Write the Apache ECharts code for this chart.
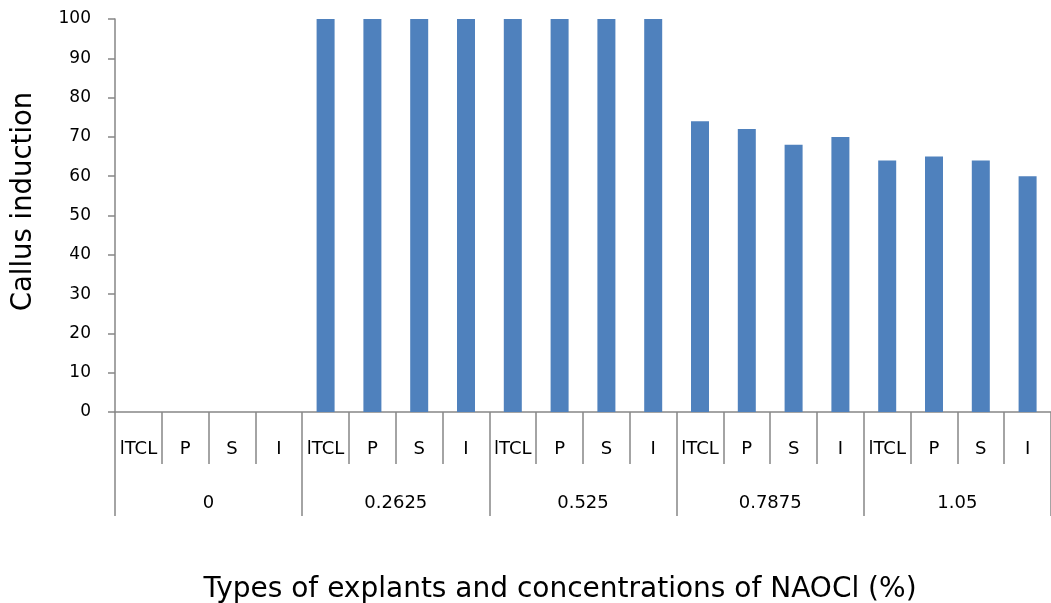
<!DOCTYPE html>
<html>
<head>
<meta charset="utf-8">
<script src="https://cdn.jsdelivr.net/npm/echarts@6/dist/echarts.min.js"></script>
<style>
  html, body { margin: 0; padding: 0; background: #fff; }
  #chart { width: 1051px; height: 603px; }
</style>
</head>
<body>
<div id="chart"></div>
<script>
// Explant types repeated inside each NaOCl concentration group
const explants = ['lTCL', 'P', 'S', 'I'];
const concentrations = ['0', '0.2625', '0.525', '0.7875', '1.05'];
// Callus induction (%) per group, in explant order
const callus0 = [0, 0, 0, 0];
const callus02625 = [100, 100, 100, 100];
const callus0525 = [100, 100, 100, 100];
const callus07875 = [74, 72, 68, 70];
const callus105 = [64, 65, 64, 60];
const yTicks = { min: 0, max: 100, interval: 10 };

const groups = [callus0, callus02625, callus0525, callus07875, callus105];
const innerCats = [];
const values = [];
concentrations.forEach((c, gi) => {
  explants.forEach((e, ei) => {
    innerCats.push(e);
    values.push(groups[gi][ei]);
  });
});

const axisGray = '#868686';
const font = 'DejaVu Sans';

const chart = echarts.init(document.getElementById('chart'), null, { renderer: 'canvas' });
chart.setOption({
  animation: false,
  backgroundColor: '#fff',
  grid: {
    left: 115, right: 0, top: 19, bottom: 191,
    containLabel: false,
    outerBoundsMode: 'none'
  },
  xAxis: [
    {
      type: 'category',
      data: innerCats,
      position: 'bottom',
      axisLine: { show: true, lineStyle: { color: axisGray, width: 1.5 } },
      axisTick: { show: true, interval: 0, length: 52, lineStyle: { color: axisGray, width: 1.5 } },
      axisLabel: { interval: 0, margin: 28, color: '#000', fontFamily: font, fontSize: 18 },
      splitLine: { show: false }
    },
    {
      type: 'category',
      data: concentrations,
      position: 'bottom',
      axisLine: { show: false },
      axisTick: { show: true, interval: 0, length: 104, lineStyle: { color: axisGray, width: 1.5 } },
      axisLabel: { interval: 0, margin: 82, color: '#000', fontFamily: font, fontSize: 18 },
      splitLine: { show: false },
      name: 'Types of explants and concentrations of NAOCl (%)',
      nameLocation: 'middle',
      nameGap: 164,
      nameTextStyle: { color: '#000', fontFamily: font, fontSize: 28, padding: [0, 46, 0, 0] }
    }
  ],
  yAxis: {
    type: 'value',
    min: yTicks.min,
    max: yTicks.max,
    interval: yTicks.interval,
    axisLine: { show: true, lineStyle: { color: axisGray, width: 1.5 } },
    axisTick: { show: true, length: 7, lineStyle: { color: axisGray, width: 1.5 } },
    axisLabel: { margin: 24, color: '#000', fontFamily: font, fontSize: 17 },
    splitLine: { show: false },
    name: 'Callus induction',
    nameLocation: 'middle',
    nameGap: 77,
    nameTextStyle: { color: '#000', fontFamily: font, fontSize: 27.5, padding: [0, 0, 0, 28] }
  },
  series: [{
    type: 'bar',
    xAxisIndex: 0,
    data: values,
    barWidth: 18,
    itemStyle: { color: '#4F81BD' }
  }]
});
</script>
</body>
</html>
